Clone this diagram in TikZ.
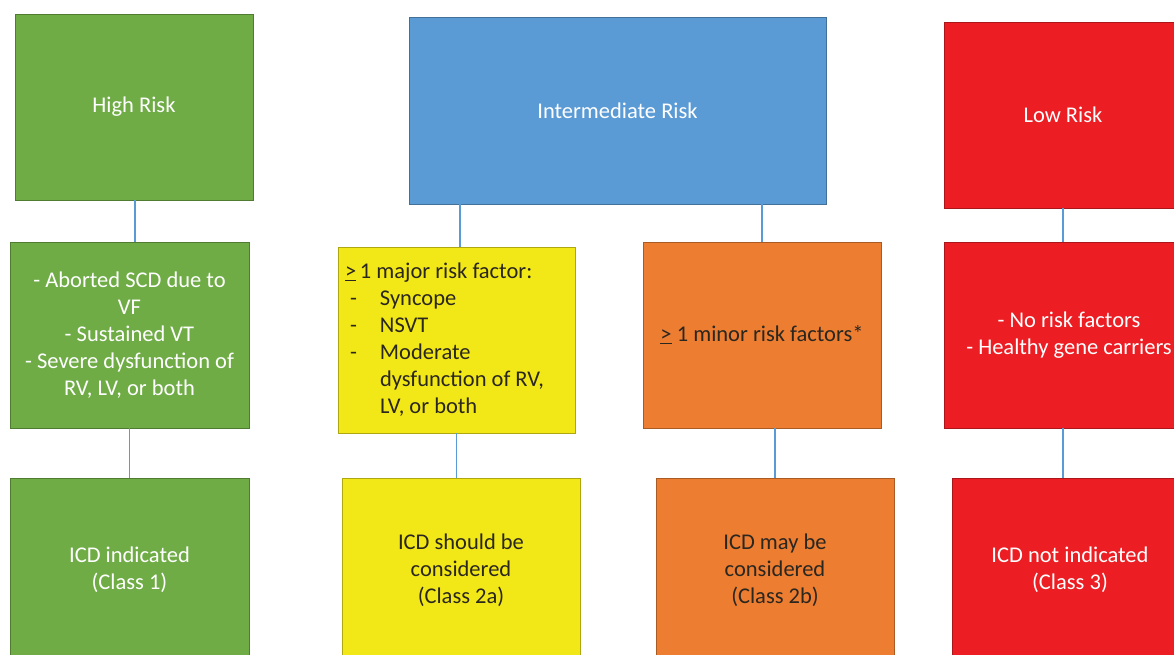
\documentclass[tikz,border=0pt]{standalone}
\usepackage{fontspec}
\setmainfont{Carlito}
\definecolor{cgreen}{HTML}{6FAC46}
\definecolor{cblue}{HTML}{5B9BD5}
\definecolor{cyellow}{HTML}{F3E817}
\definecolor{corange}{HTML}{EC7D31}
\definecolor{cred}{HTML}{EC1E24}
\definecolor{cline}{HTML}{5B9BD5}
\definecolor{cdark}{HTML}{2A2620}
\begin{document}
\begin{tikzpicture}[x=1pt,y=-1pt,
  box/.style={rectangle, draw=#1!72!black, fill=#1, line width=0.9pt, inner sep=0pt,
    align=center, font=\fontsize{22.5}{27}\selectfont},
  light/.style={text=white},
  darktext/.style={text=cdark},
  link/.style={draw=cline, line width=1.2pt}]
\clip (0,0) rectangle (1174,655);
\fill[white] (0,0) rectangle (1174,655);
% top row
\node[box=cgreen, light, minimum width=238pt, minimum height=186pt] (hr) at (134,107) {High Risk};
\node[box=cblue, light, minimum width=417pt, minimum height=187pt] (ir) at (617.5,110.5) {Intermediate Risk};
\node[box=cred, light, minimum width=238pt, minimum height=186pt] (lr) at (1063,115) {Low Risk};
% middle row
\node[box=cgreen, light, minimum width=239pt, minimum height=186pt] (hf) at (129.5,335)
  {- Aborted SCD due to\\VF\\- Sustained VT\\- Severe dysfunction of\\RV, LV, or both};
\node[box=cyellow, darktext, minimum width=237pt, minimum height=186pt, align=flush left,
  text width=223pt, inner xsep=7pt] (mf) at (456.5,340)
  {\underline{>}\,1 major risk factor:\\
   \makebox[35pt][l]{\hspace{5pt}-}Syncope\\
   \makebox[35pt][l]{\hspace{5pt}-}NSVT\\
   \makebox[35pt][l]{\hspace{5pt}-}Moderate\\
   \hspace*{35pt}dysfunction of RV,\\
   \hspace*{35pt}LV, or both};
\node[box=corange, darktext, minimum width=238pt, minimum height=186pt] (nf) at (762,335)
  {\underline{>} 1 minor risk factors*};
\node[box=cred, light, minimum width=250pt, minimum height=186pt] (lf) at (1069,335)
  {- No risk factors\\- Healthy gene carriers};
% bottom row
\node[box=cgreen, light, minimum width=239pt, minimum height=184pt] (hc) at (129.5,570)
  {ICD indicated\\(Class 1)};
\node[box=cyellow, darktext, minimum width=238pt, minimum height=184pt] (mc) at (461,570)
  {ICD should be\\considered\\(Class 2a)};
\node[box=corange, darktext, minimum width=238pt, minimum height=184pt] (nc) at (775,570)
  {ICD may be\\considered\\(Class 2b)};
\node[box=cred, light, minimum width=236pt, minimum height=184pt] (lc) at (1070,570)
  {ICD not indicated\\(Class 3)};
% connectors
\draw[link] ([xshift=1pt]hr.south) -- ([xshift=1pt]hr.south |- hf.north);
\draw[link] (hf.south) -- (hf.south |- hc.north);
\draw[link] ([xshift=3.5pt]mf.north) -- ([xshift=3.5pt]mf.north |- ir.south);
\draw[link] (nf.north) -- (nf.north |- ir.south);
\draw[link] (mf.south) -- (mf.south |- mc.north);
\draw[link] (nc.north) -- (nc.north |- nf.south);
\draw[link] (lr.south) -- (lr.south |- lf.north);
\draw[link] (lf.south -| lr.south) -- (lc.north -| lr.south);
\end{tikzpicture}
\end{document}
